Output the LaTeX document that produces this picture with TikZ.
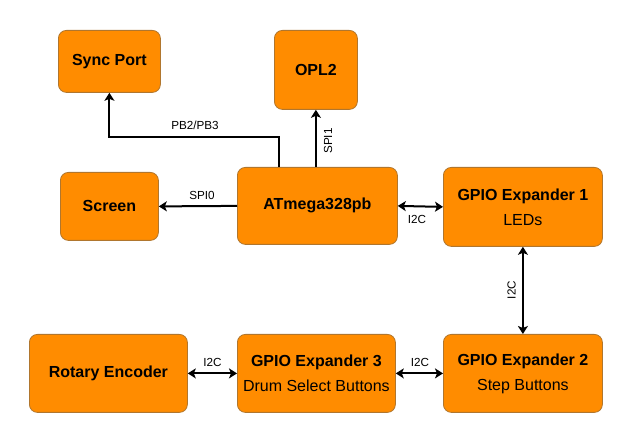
\documentclass[tikz,border=0pt]{standalone}
\usepackage{fontspec}
\setmainfont{Liberation Sans}
\usetikzlibrary{arrows.meta}
\definecolor{boxfill}{HTML}{FF8C00}
\definecolor{boxline}{HTML}{B0762E}
\tikzset{
  blk/.style={draw=boxline, fill=boxfill, line width=0.8pt, rounded corners=8pt,
    anchor=north west, inner sep=0pt, align=center,
    font=\fontsize{16}{25}\selectfont},
  tip/.tip={Stealth[length=8pt,width=10pt,inset=2pt]},
  arr/.style={line width=2pt, -tip},
  darr/.style={line width=2pt, tip-tip},
  lbl/.style={font=\fontsize{11.7}{14}\selectfont, inner sep=0pt}
}
\begin{document}
\begin{tikzpicture}[x=1pt,y=-1pt]
\useasboundingbox (0,0) rectangle (632,443);
\node[blk, minimum width=102pt, minimum height=62pt] (sync) at (58,30) {\bfseries Sync Port};
\node[blk, minimum width=83pt, minimum height=79pt] (opl) at (274,30) {\bfseries OPL2};
\node[blk, minimum width=98pt, minimum height=68pt] (screen) at (60,172) {\bfseries Screen};
\node[blk, minimum width=160pt, minimum height=77pt] (atm) at (237,167) {\bfseries ATmega328pb};
\node[blk, minimum width=159pt, minimum height=79pt] (g1) at (443,167) {\textbf{GPIO Expander 1}\\LEDs};
\node[blk, minimum width=159pt, minimum height=78pt] (g2) at (443,334) {\textbf{GPIO Expander 2}\\Step Buttons};
\node[blk, minimum width=158pt, minimum height=78pt] (g3) at (237,334) {\textbf{GPIO Expander 3}\\Drum Select Buttons};
\node[blk, minimum width=158pt, minimum height=78pt] (rot) at (29,334) {\bfseries Rotary Encoder};

\draw[arr] ([xshift=-38pt]atm.north) -- ++(0,-30) -| (sync.south);
\draw[arr] (atm.north -| opl.south) -- (opl.south);
\draw[arr] (atm.west) -- (screen.east);
\draw[darr] (atm.east) -- (g1.west);
\draw[darr] (g1.south) -- (g2.north);
\draw[darr] (g2.west) -- (g3.east);
\draw[darr] (g3.west) -- (rot.east);

\node[lbl] (lpb) at (195,125) {PB2/PB3};
\node[lbl, rotate=90] (lspi1) at (328,141) {SPI1};
\node[lbl] (lspi0) at (202,195) {SPI0};
\node[lbl] (li2ca) at (417,219) {I2C};
\node[lbl, rotate=90] (li2cb) at (511.5,290) {I2C};
\node[lbl] (li2cc) at (420,362) {I2C};
\node[lbl] (li2cd) at (212.5,362) {I2C};
\end{tikzpicture}
\end{document}
